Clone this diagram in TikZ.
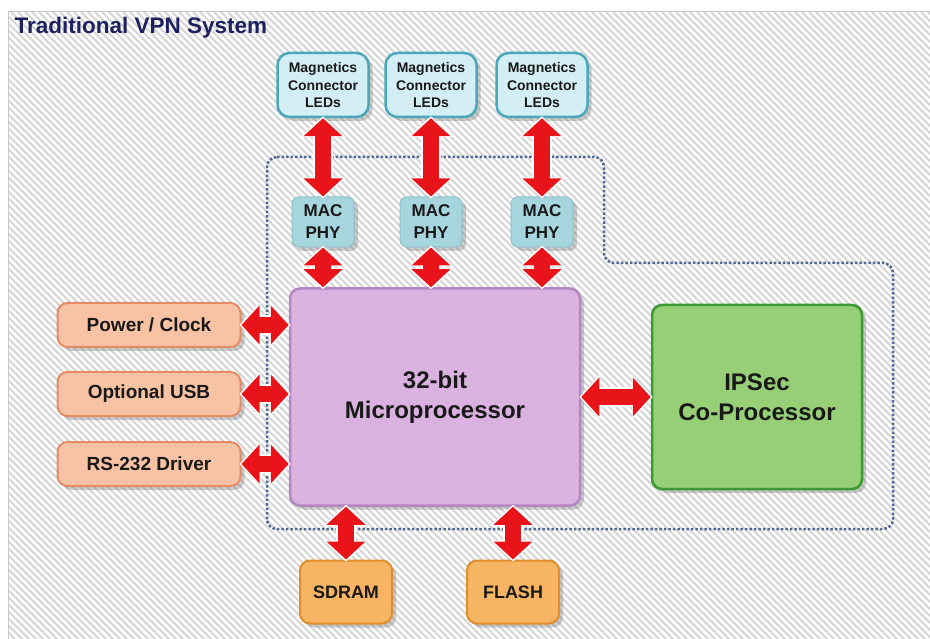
\documentclass[tikz,border=0pt]{standalone}
\usepackage{fontspec}
\setmainfont{Liberation Sans}
\usetikzlibrary{arrows.meta,shadows}

\definecolor{hatch}{HTML}{D6D6D6}
\definecolor{frame}{HTML}{C8C8C8}
\definecolor{navy}{HTML}{1E2060}
\definecolor{dotline}{HTML}{4E6A94}
\definecolor{linkred}{HTML}{E8141A}
\definecolor{magfill}{HTML}{D4EEF5}
\definecolor{magdraw}{HTML}{4BA8BA}
\definecolor{macfill}{HTML}{A6D5DE}
\definecolor{macdraw}{HTML}{8CC2CC}
\definecolor{cpufill}{HTML}{DAB2DF}
\definecolor{cpudraw}{HTML}{B486C2}
\definecolor{secfill}{HTML}{96CF76}
\definecolor{secdraw}{HTML}{3C9A32}
\definecolor{iofill}{HTML}{F8C2A5}
\definecolor{iodraw}{HTML}{E58C66}
\definecolor{memfill}{HTML}{F7B462}
\definecolor{memdraw}{HTML}{DE8E2E}

\begin{document}
\begin{tikzpicture}[x=1pt, y=-1pt,
  box/.style={rounded corners=10pt, align=center, inner sep=0pt,
    text={black!90}, drop shadow={opacity=0.4, shadow xshift=4pt, shadow yshift=-4pt}},
  magbox/.style={box, rounded corners=12pt, fill=magfill, draw=magdraw, line width=2.5pt,
    minimum width=91pt, minimum height=64pt, font=\bfseries\fontsize{14}{17.5}\selectfont},
  macbox/.style={box, rounded corners=7pt, fill=macfill, draw=macdraw, line width=1pt,
    minimum width=62pt, minimum height=50pt, font=\bfseries\fontsize{17}{22}\selectfont},
  iobox/.style={box, fill=iofill, draw=iodraw, line width=2pt,
    minimum width=183pt, minimum height=44pt, font=\bfseries\fontsize{19}{22}\selectfont},
  membox/.style={box, fill=memfill, draw=memdraw, line width=2pt,
    minimum width=92pt, minimum height=63pt, font=\bfseries\fontsize{18}{22}\selectfont},
  bigbox/.style={box, line width=2.5pt, font=\bfseries\fontsize{24}{30}\selectfont},
  link/.style={draw=linkred, line width=16pt,
    {Triangle[length=18pt,width=38pt]}-{Triangle[length=18pt,width=38pt]},
    preaction={draw=white, line width=20pt, shorten >=-2pt, shorten <=-2pt,
      {Triangle[length=21pt,width=44pt]}-{Triangle[length=21pt,width=44pt]}}}]

  % page and hatched panel
  \useasboundingbox (0,0) rectangle (930,639);
  \fill[white] (0,0) rectangle (930,639);
  \begin{scope}
    \clip (8,12) rectangle (930,639);
    \foreach \i in {-640,-633,...,930}
      \draw[hatch, line width=1.8pt] (\i,12) -- +(640,640);
  \end{scope}
  \draw[frame, line width=1pt] (8,12) rectangle (932,641);

  \node[anchor=west, navy, font=\bfseries\fontsize{22.5}{26}\selectfont] (title) at (11,28) {Traditional VPN System};

  % dotted boundary of the board
  \draw[dotline, line width=2.5pt, dash pattern=on 2.5pt off 2pt, rounded corners=10pt]
    (267,157) -- (604,157) -- (604,263) -- (893,263) -- (893,529) -- (267,529) -- cycle;

  % ethernet ports
  \node[magbox] (mag1) at (323,85) {Magnetics\\Connector\\LEDs};
  \node[magbox] (mag2) at (431,85) {Magnetics\\Connector\\LEDs};
  \node[magbox] (mag3) at (542,85) {Magnetics\\Connector\\LEDs};
  \node[macbox] (mac1) at (323,222) {MAC\\PHY};
  \node[macbox] (mac2) at (431,222) {MAC\\PHY};
  \node[macbox] (mac3) at (542,222) {MAC\\PHY};

  % processors
  \node[bigbox, fill=cpufill, draw=cpudraw, minimum width=290pt, minimum height=217pt]
    (cpu) at (435,397) {32-bit\\Microprocessor};
  \node[bigbox, fill=secfill, draw=secdraw, minimum width=210pt, minimum height=184pt]
    (ipsec) at (757,397) {IPSec\\Co-Processor};

  % peripherals
  \node[iobox] (pwr) at (149,325) {Power / Clock};
  \node[iobox] (usb) at (149,394) {Optional USB};
  \node[iobox] (rs) at (149,464) {RS-232 Driver};
  \node[membox] (sdram) at (346,592) {SDRAM};
  \node[membox] (flash) at (513,592) {FLASH};

  % links
  \foreach \n in {1,2,3} {
    \draw[link] (mag\n) -- (mac\n);
    \draw[link] (mac\n) -- (mac\n |- cpu.north);
  }
  \foreach \p in {pwr,usb,rs}
    \draw[link] (\p) -- (\p -| cpu.west);
  \draw[link] (cpu) -- (ipsec);
  \draw[link] (sdram |- cpu.south) -- (sdram);
  \draw[link] (flash |- cpu.south) -- (flash);

\end{tikzpicture}
\end{document}
